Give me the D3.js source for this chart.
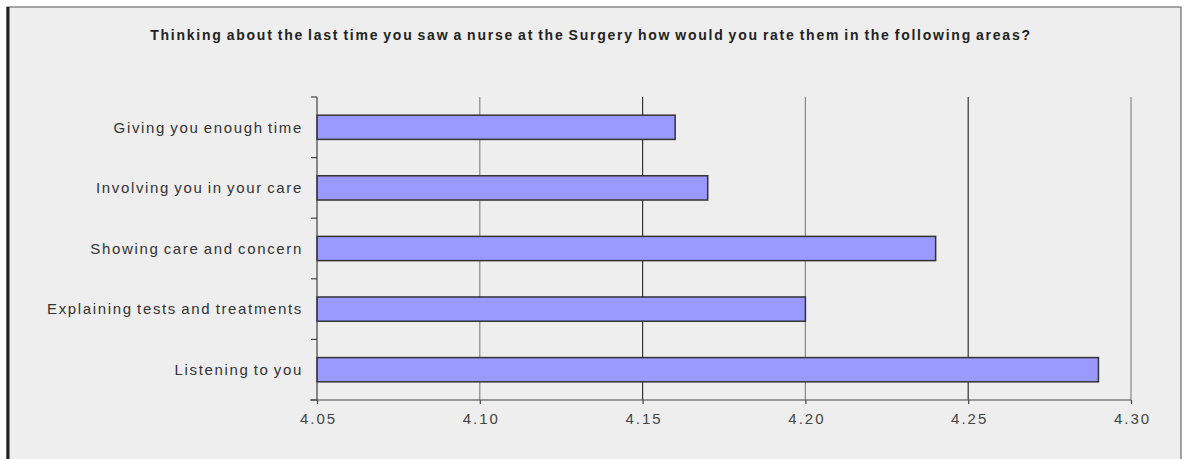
<!DOCTYPE html>
<html>
<head>
<meta charset="utf-8">
<script src="https://cdn.jsdelivr.net/npm/d3@7"></script>
<style>
  html, body { margin: 0; padding: 0; background: #ffffff; }
  svg { display: block; }
</style>
</head>
<body>
<svg id="chart" width="1184" height="459"></svg>
<script>
// Survey question and average ratings per area
const title = "Thinking about the last time you saw a nurse at the Surgery how would you rate them in the following areas?";
const categories = [
  "Giving you enough time",
  "Involving you in your care",
  "Showing care and concern",
  "Explaining tests and treatments",
  "Listening to you"
];
const ratings = [4.16, 4.17, 4.24, 4.20, 4.29];
const tickValues = [4.05, 4.10, 4.15, 4.20, 4.25, 4.30];

const svg = d3.select("#chart");
const W = 1184, H = 459;
const FONT = "Liberation Sans, Arial, sans-serif";

// panel background with frame
svg.append("rect").attr("x", 7).attr("y", 7).attr("width", 1174).attr("height", 470)
  .attr("fill", "#eeeeee").attr("stroke", "#555").attr("stroke-width", 1);
svg.append("line").attr("x1", 8).attr("x2", 8).attr("y1", 7).attr("y2", H)
  .attr("stroke", "#222").attr("stroke-width", 3);
svg.append("line").attr("x1", 1181).attr("x2", 1181).attr("y1", 7).attr("y2", H)
  .attr("stroke", "#999").attr("stroke-width", 1);

// title
svg.append("text")
  .attr("x", 591).attr("y", 40)
  .attr("text-anchor", "middle")
  .attr("font-family", FONT)
  .attr("font-weight", "bold")
  .attr("font-size", 14)
  .attr("letter-spacing", "1.75px")
  .attr("word-spacing", "-1.5px")
  .attr("fill", "#222")
  .text(title);

const m = { left: 317, right: 1131, top: 97, bottom: 400 };

const x = d3.scaleLinear().domain([4.05, 4.30]).range([m.left, m.right]);
const y = d3.scaleBand().domain(categories).range([m.top, m.bottom]).paddingInner(0.6).paddingOuter(0.3);

// vertical gridlines
const gridColor = v => (Math.abs(v - 4.15) < 1e-6 || Math.abs(v - 4.25) < 1e-6) ? "#333" : "#888";
svg.append("g").selectAll("line")
  .data(tickValues.slice(1))
  .join("line")
  .attr("x1", d => x(d)).attr("x2", d => x(d))
  .attr("y1", m.top).attr("y2", m.bottom)
  .attr("stroke", d => gridColor(d))
  .attr("stroke-width", 1.2);

// bars
svg.append("g").selectAll("rect")
  .data(categories.map((c, i) => ({ c, v: ratings[i] })))
  .join("rect")
  .attr("x", x(4.05))
  .attr("y", d => y(d.c))
  .attr("width", d => x(d.v) - x(4.05))
  .attr("height", y.bandwidth())
  .attr("fill", "#9999ff")
  .attr("stroke", "#333")
  .attr("stroke-width", 1.5);

// category axis with ticks at band boundaries
const yAxis = svg.append("g");
yAxis.append("line").attr("x1", m.left).attr("x2", m.left).attr("y1", m.top).attr("y2", m.bottom)
  .attr("stroke", "#444").attr("stroke-width", 1.2);
const step = (m.bottom - m.top) / categories.length;
yAxis.selectAll("line.tk")
  .data(d3.range(categories.length + 1))
  .join("line").attr("class", "tk")
  .attr("x1", m.left - 6).attr("x2", m.left)
  .attr("y1", i => m.top + i * step).attr("y2", i => m.top + i * step)
  .attr("stroke", "#444").attr("stroke-width", 1.2);
yAxis.selectAll("text")
  .data(categories)
  .join("text")
  .attr("x", 303)
  .attr("y", d => y(d) + y.bandwidth() / 2)
  .attr("dy", "0.35em")
  .attr("text-anchor", "end")
  .attr("font-family", FONT)
  .attr("font-size", 15)
  .attr("letter-spacing", "1.65px")
  .attr("word-spacing", "-1.5px")
  .attr("fill", "#333")
  .text(d => d);

// value axis
const xAxis = d3.axisBottom(x).tickValues(tickValues).tickFormat(d3.format(".2f")).tickSize(4).tickPadding(9);
const gx = svg.append("g").attr("transform", `translate(0,${m.bottom})`).call(xAxis);
gx.select(".domain").attr("stroke", "#444").attr("stroke-width", 1.2)
  .attr("d", `M${m.left - 7},0H${m.right}`);
gx.selectAll(".tick line").attr("stroke", "#444").attr("stroke-width", 1.2);
gx.selectAll(".tick text")
  .attr("font-family", FONT)
  .attr("font-size", 15)
  .attr("letter-spacing", "2px")
  .attr("dx", "1px")
  .attr("fill", "#444");
</script>
</body>
</html>
